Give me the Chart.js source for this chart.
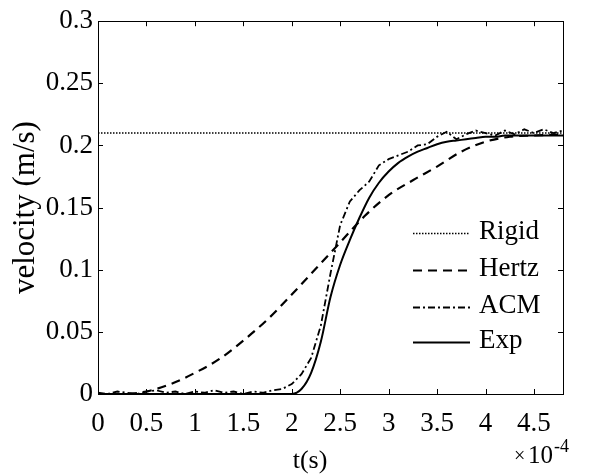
<!DOCTYPE html>
<html>
<head>
<meta charset="utf-8">
<script src="https://cdn.jsdelivr.net/npm/chart.js@4.4.1/dist/chart.umd.min.js"></script>
<style>
html, body { margin: 0; padding: 0; background: #fff; }
</style>
</head>
<body>
<canvas id="graficoVelocidade" width="589" height="476"></canvas>
<script>
// tempo em unidades de 1e-4 s
const tempo = [0, 0.1, 0.2, 0.3, 0.4, 0.5, 0.6, 0.7, 0.8, 0.9,
    1.0, 1.1, 1.2, 1.3, 1.4, 1.5, 1.6, 1.7, 1.8, 1.9,
    2.0, 2.1, 2.2, 2.3, 2.4, 2.5, 2.6, 2.7, 2.8, 2.9,
    3.0, 3.1, 3.2, 3.3, 3.4, 3.5, 3.6, 3.7, 3.8, 3.9,
    4.0, 4.1, 4.2, 4.3, 4.4, 4.5, 4.6, 4.7, 4.8];

const velAcm = [0.001, 0.000, 0.002, 0.001, 0.000, 0.002, 0.003, 0.001, 0.002, 0.000,
    0.002, 0.001, 0.003, 0.001, 0.002, 0.000, 0.002, 0.001, 0.003, 0.004,
    0.008, 0.016, 0.029, 0.055, 0.097, 0.136, 0.155, 0.164, 0.171, 0.184,
    0.189, 0.192, 0.195, 0.200, 0.201, 0.207, 0.211, 0.205, 0.209, 0.212,
    0.210, 0.208, 0.212, 0.209, 0.213, 0.210, 0.213, 0.210, 0.212];

const velExp = [0, 0, 0, 0, 0, 0, 0, 0, 0, 0,
    0, 0, 0, 0, 0, 0, 0, 0, 0, 0,
    0.000, 0.004, 0.017, 0.042, 0.078, 0.104, 0.124, 0.142, 0.158, 0.170,
    0.179, 0.186, 0.191, 0.195, 0.198, 0.201, 0.203, 0.204, 0.205, 0.206,
    0.207, 0.207, 0.208, 0.208, 0.208, 0.208, 0.208, 0.208, 0.208];

const tempoHertz = [0, 0.25, 0.5, 0.75, 1.0, 1.25, 1.5, 1.75, 2.0, 2.25,
    2.5, 2.75, 3.0, 3.25, 3.5, 3.75, 4.0, 4.25, 4.5, 4.8];
const velHertz = [0, 0, 0.002, 0.008, 0.017, 0.028, 0.043, 0.060, 0.080, 0.101,
    0.122, 0.143, 0.160, 0.172, 0.183, 0.195, 0.203, 0.207, 0.208, 0.209];

const tempoRigid = [0, 4.8];
const velRigid = [0.21, 0.21];

const ticksX = [0, 0.5, 1, 1.5, 2, 2.5, 3, 3.5, 4, 4.5];
const ticksY = [0, 0.05, 0.1, 0.15, 0.2, 0.25, 0.3];

const fonte = "'Liberation Serif', 'Times New Roman', serif";

function pares(xs, ys) {
    return xs.map((x, i) => ({ x: x, y: ys[i] }));
}

const moldura = {
    id: 'moldura',
    afterDraw(chart) {
        const { ctx, chartArea: a, scales: { x, y } } = chart;
        ctx.save();
        ctx.strokeStyle = '#000';
        ctx.lineWidth = 1;
        ctx.setLineDash([]);
        ctx.strokeRect(Math.round(a.left) + 0.5, Math.round(a.top) + 0.5,
            Math.round(a.right - a.left), Math.round(a.bottom - a.top));

        ctx.beginPath();
        ticksX.forEach(v => {
            const px = Math.round(x.getPixelForValue(v)) + 0.5;
            ctx.moveTo(px, a.bottom); ctx.lineTo(px, a.bottom - 5);
            ctx.moveTo(px, a.top); ctx.lineTo(px, a.top + 5);
        });
        ticksY.forEach(v => {
            const py = Math.round(y.getPixelForValue(v)) + 0.5;
            ctx.moveTo(a.left, py); ctx.lineTo(a.left + 5, py);
            ctx.moveTo(a.right, py); ctx.lineTo(a.right - 5, py);
        });
        ctx.stroke();

        // legenda dentro do gráfico
        const linhas = [233, 270, 307, 342];
        chart.data.datasets.forEach((ds, i) => {
            const ly = linhas[i] + 0.5;
            ctx.beginPath();
            ctx.lineWidth = ds.borderWidth;
            ctx.setLineDash(ds.borderDash || []);
            ctx.moveTo(413, ly);
            ctx.lineTo(470, ly);
            ctx.stroke();
            ctx.setLineDash([]);
            ctx.fillStyle = '#000';
            ctx.font = '27px ' + fonte;
            ctx.textBaseline = 'middle';
            ctx.textAlign = 'left';
            ctx.fillText(ds.label, 479, linhas[i] - 1);
        });

        // título do eixo x e multiplicador
        ctx.fillStyle = '#000';
        ctx.textAlign = 'center';
        ctx.textBaseline = 'alphabetic';
        ctx.font = '26px ' + fonte;
        ctx.fillText('t(s)', 310, 468);
        ctx.textAlign = 'left';
        ctx.font = '20px ' + fonte;
        ctx.fillText('\u00d7', 514, 462);
        ctx.font = '25px ' + fonte;
        ctx.fillText('10', 528, 463);
        ctx.font = '18px ' + fonte;
        ctx.fillText('-4', 554, 452);
        ctx.restore();
    }
};

const ctx = document.getElementById('graficoVelocidade').getContext('2d');

new Chart(ctx, {
    type: 'line',
    data: {
        datasets: [
            {
                label: 'Rigid',
                data: pares(tempoRigid, velRigid),
                borderColor: '#000',
                borderWidth: 1.5,
                borderDash: [1.5, 1.5],
                pointRadius: 0,
                fill: false
            },
            {
                label: 'Hertz',
                data: pares(tempoHertz, velHertz),
                borderColor: '#000',
                borderWidth: 2.2,
                borderDash: [9, 6],
                pointRadius: 0,
                cubicInterpolationMode: 'monotone',
                fill: false
            },
            {
                label: 'ACM',
                data: pares(tempo, velAcm),
                borderColor: '#000',
                borderWidth: 1.8,
                borderDash: [7, 3, 2, 3],
                pointRadius: 0,
                tension: 0,
                fill: false
            },
            {
                label: 'Exp',
                data: pares(tempo, velExp),
                borderColor: '#000',
                borderWidth: 2,
                pointRadius: 0,
                cubicInterpolationMode: 'monotone',
                fill: false
            }
        ]
    },
    options: {
        responsive: false,
        animation: false,
        devicePixelRatio: 1,
        layout: { padding: { top: 15, right: 26, left: 0, bottom: 0 } },
        plugins: {
            legend: { display: false },
            tooltip: { enabled: false }
        },
        scales: {
            x: {
                type: 'linear',
                min: 0,
                max: 4.8,
                grid: { display: false, drawTicks: false },
                border: { display: false },
                afterBuildTicks: scale => { scale.ticks = ticksX.map(v => ({ value: v })); },
                afterFit: scale => { scale.height = 82; },
                ticks: {
                    color: '#000',
                    padding: 14,
                    maxRotation: 0,
                    font: { family: fonte, size: 27 },
                    callback: v => String(v)
                }
            },
            y: {
                min: 0,
                max: 0.3,
                grid: { display: false, drawTicks: false },
                border: { display: false },
                afterBuildTicks: scale => { scale.ticks = ticksY.map(v => ({ value: v })); },
                afterFit: scale => { scale.width = 98; },
                ticks: {
                    color: '#000',
                    padding: 5,
                    font: { family: fonte, size: 27 },
                    callback: v => String(parseFloat(v.toFixed(2)))
                },
                title: {
                    display: true,
                    text: 'velocity (m/s)',
                    color: '#000',
                    font: { family: fonte, size: 31 },
                    padding: { top: 7, bottom: 0 }
                }
            }
        }
    },
    plugins: [moldura]
});
</script>
</body>
</html>
